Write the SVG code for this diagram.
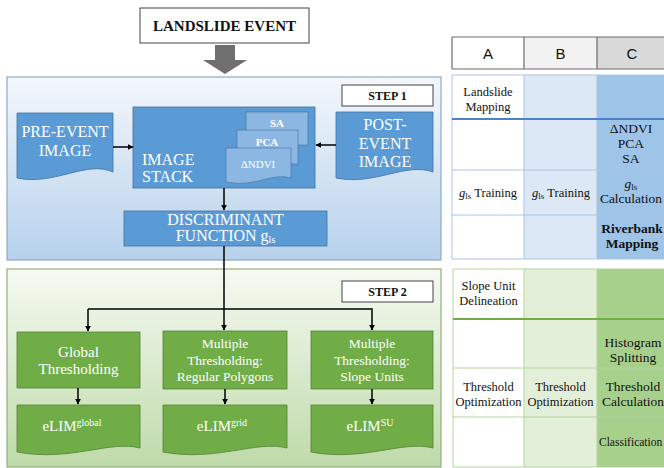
<svg xmlns="http://www.w3.org/2000/svg" width="664" height="468" viewBox="0 0 664 468">
<defs>
<linearGradient id="gBlue" x1="0" y1="0" x2="0" y2="1">
<stop offset="0" stop-color="#f3f7fc"/>
<stop offset="1" stop-color="#b7d1ec"/>
</linearGradient>
<linearGradient id="gGreen" x1="0" y1="0" x2="0" y2="1">
<stop offset="0" stop-color="#f6faf3"/>
<stop offset="1" stop-color="#bedaa9"/>
</linearGradient>
<marker id="ah" viewBox="0 0 10 10" refX="9" refY="5" markerWidth="6" markerHeight="6" orient="auto" markerUnits="userSpaceOnUse">
<path d="M0,0 L10,5 L0,10 Z" fill="#000"/>
</marker>
<style>
.panelB{fill:url(#gBlue);stroke:#8ea9c8;stroke-width:1.2}
.panelG{fill:url(#gGreen);stroke:#93b07c;stroke-width:1.2}
.bshape{fill:#5b9bd5;stroke:#41719c;stroke-width:0.8}
.bsub{fill:#8db7e3;stroke:#41719c;stroke-width:0.6}
.gshape{fill:#70ad47;stroke:#557f36;stroke-width:0.8}
text{font-family:'Liberation Serif','Times New Roman','DejaVu Serif',serif}
.wt{fill:#fff;text-anchor:middle}
.bt{fill:#111;text-anchor:middle}
.ws{fill:#fff;text-anchor:start}
.lbl{fill:#fff;stroke:#444;stroke-width:1}
.conn{stroke:#000;stroke-width:1.5;fill:none}
.tt{fill:#111;text-anchor:middle;font-size:12.5px}
.tc{fill:#111;text-anchor:middle;font-size:13.5px}
.ts{fill:#111;text-anchor:start;font-size:11.5px}
.hd{font-family:'Liberation Sans',Arial,sans-serif;fill:#111;text-anchor:middle;font-size:15px}
</style>
</defs>
<rect width="664" height="468" fill="#fff"/>

<g id="landslide-event">
<rect x="140" y="8" width="169" height="35" class="lbl"/>
<text x="224.5" y="31" class="bt" font-size="15" font-weight="bold">LANDSLIDE EVENT</text>
</g>
<g id="big-arrow">
<path d="M215,45 H235 V60 H247 L225,74 L203,60 H215 Z" fill="#6f6f6f"/>
</g>

<g id="step1-panel">
<rect x="7" y="77" width="434" height="183" class="panelB"/>
</g>
<g id="step1-label">
<rect x="342" y="85" width="91" height="21" class="lbl"/>
<text x="387.5" y="100" class="bt" font-size="12" font-weight="bold">STEP 1</text>
</g>
<g id="pre-event">
<path d="M17,113 H113 V172 C86,160 55,186 17,178 Z" class="bshape"/>
<text x="65" y="137" class="wt" font-size="16">PRE-EVENT</text>
<text x="65" y="156" class="wt" font-size="16">IMAGE</text>
</g>
<g id="image-stack">
<rect x="133" y="107" width="182" height="81" class="bshape"/>
<text x="142" y="165" class="ws" font-size="16">IMAGE</text>
<text x="142" y="182" class="ws" font-size="16">STACK</text>
<rect x="246" y="112" width="62" height="33" class="bsub"/>
<text x="277" y="127" class="wt" font-size="11" font-weight="bold">SA</text>
<rect x="237" y="130" width="61" height="34" class="bsub"/>
<text x="267" y="146" class="wt" font-size="11" font-weight="bold">PCA</text>
<path d="M226,148 H291 V178 C272,172 255,188 226,182 Z" class="bsub"/>
<text x="258" y="168" class="wt" font-size="11">ΔNDVI</text>
</g>
<g id="post-event">
<path d="M336,112 H433 V172 C405,162 375,186 336,178 Z" class="bshape"/>
<text x="385" y="130" class="wt" font-size="16">POST-</text>
<text x="385" y="149" class="wt" font-size="16">EVENT</text>
<text x="385" y="167" class="wt" font-size="16">IMAGE</text>
</g>
<g id="discriminant">
<rect x="124" y="211" width="203" height="35" class="bshape"/>
<text x="225.5" y="225" class="wt" font-size="16">DISCRIMINANT</text>
<text x="225.5" y="241" class="wt" font-size="16">FUNCTION g<tspan font-size="10" dy="2">ls</tspan></text>
</g>

<g id="step2-panel">
<rect x="7" y="269" width="434" height="198" class="panelG"/>
</g>
<g id="step2-label">
<rect x="342" y="281" width="91" height="21" class="lbl"/>
<text x="387.5" y="296" class="bt" font-size="12" font-weight="bold">STEP 2</text>
</g>
<g id="global">
<rect x="17" y="332" width="123" height="56" class="gshape"/>
<text x="78.5" y="357" class="wt" font-size="15">Global</text>
<text x="78.5" y="374" class="wt" font-size="15">Thresholding</text>
</g>
<g id="multi-grid">
<rect x="163" y="331" width="124" height="58" class="gshape"/>
<text x="225" y="348" class="wt" font-size="13.5">Multiple</text>
<text x="225" y="365" class="wt" font-size="13.5">Thresholding:</text>
<text x="225" y="381" class="wt" font-size="13.5">Regular  Polygons</text>
</g>
<g id="multi-su">
<rect x="311" y="331" width="122" height="58" class="gshape"/>
<text x="372" y="348" class="wt" font-size="13.5">Multiple</text>
<text x="372" y="365" class="wt" font-size="13.5">Thresholding:</text>
<text x="372" y="381" class="wt" font-size="13.5">Slope Units</text>
</g>
<g id="elim-global">
<path d="M17,405 H140 V448 C110,440 70,462 17,452 Z" class="gshape"/>
<text x="72" y="431" class="wt" font-size="15">eLIM<tspan font-size="10" dy="-5">global</tspan></text>
</g>
<g id="elim-grid">
<path d="M163,405 H287 V448 C257,440 216,462 163,452 Z" class="gshape"/>
<text x="222" y="431" class="wt" font-size="15">eLIM<tspan font-size="10" dy="-5">grid</tspan></text>
</g>
<g id="elim-su">
<path d="M311,405 H433 V448 C403,440 363,462 311,452 Z" class="gshape"/>
<text x="370" y="431" class="wt" font-size="15">eLIM<tspan font-size="10" dy="-5">SU</tspan></text>
</g>

<g id="connectors">
<line x1="113" y1="147" x2="133" y2="147" class="conn" marker-end="url(#ah)"/>
<line x1="336" y1="145" x2="316" y2="145" class="conn" marker-end="url(#ah)"/>
<line x1="224" y1="188" x2="224" y2="210" class="conn" marker-end="url(#ah)"/>
<line x1="224" y1="246" x2="224" y2="330" class="conn" marker-end="url(#ah)"/>
<polyline points="88,309 372,309 372,330" class="conn" marker-end="url(#ah)"/>
<line x1="88" y1="309" x2="88" y2="331" class="conn" marker-end="url(#ah)"/>
<line x1="78" y1="388" x2="78" y2="404" class="conn" marker-end="url(#ah)"/>
<line x1="225" y1="389" x2="225" y2="404" class="conn" marker-end="url(#ah)"/>
<line x1="372" y1="389" x2="372" y2="404" class="conn" marker-end="url(#ah)"/>
</g>

<g id="table-header">
<rect x="452" y="37" width="72" height="32" fill="#fff"/>
<rect x="524" y="37" width="73" height="32" fill="#f2f2f2"/>
<rect x="597" y="37" width="75" height="32" fill="#d9d9d9"/>
<path d="M452,37 H672 M452,69 H672 M452,37 V69 M524,37 V69 M597,37 V69" stroke="#6d6d6d" stroke-width="1.2" fill="none"/>
<text x="488" y="59" class="hd">A</text>
<text x="560.5" y="59" class="hd">B</text>
<text x="632" y="59" class="hd">C</text>
</g>

<g id="table-step1">
<rect x="452" y="75" width="72" height="184" fill="#fff"/>
<rect x="524" y="75" width="73" height="184" fill="#dce8f5"/>
<rect x="597" y="75" width="75" height="184" fill="#9ec4e8"/>
<path d="M452,75 H672 M452,259 H672 M452,75 V259 M524,75 V259 M597,75 V259 M452,170 H672 M452,215 H672" stroke="#a9c4e3" stroke-width="1" fill="none"/>
<line x1="452" y1="119" x2="672" y2="119" stroke="#4f81c7" stroke-width="2"/>
<text x="488" y="96" class="tt">Landslide</text>
<text x="488" y="111" class="tt">Mapping</text>
<text x="631" y="133" class="tc">ΔNDVI</text>
<text x="631" y="148" class="tc">PCA</text>
<text x="631" y="163" class="tc">SA</text>
<text x="488" y="197" class="tt"><tspan font-style="italic">g</tspan><tspan font-size="9" dy="2">ls</tspan><tspan dy="-2"> Training</tspan></text>
<text x="561" y="197" class="tt"><tspan font-style="italic">g</tspan><tspan font-size="9" dy="2">ls</tspan><tspan dy="-2"> Training</tspan></text>
<text x="631" y="188" class="tc"><tspan font-style="italic">g</tspan><tspan font-size="9" dy="2">ls</tspan></text>
<text x="631" y="203" class="tc">Calculation</text>
<text x="632" y="233" class="tc" font-weight="bold">Riverbank</text>
<text x="632" y="248" class="tc" font-weight="bold">Mapping</text>
</g>

<g id="table-step2">
<rect x="453" y="269" width="71" height="198" fill="#fff"/>
<rect x="524" y="269" width="73" height="198" fill="#e3efd9"/>
<rect x="597" y="269" width="75" height="198" fill="#a8d08d"/>
<path d="M453,269 H672 M453,467 H672 M453,269 V467 M524,269 V467 M597,269 V467 M453,368 H672 M453,417 H672" stroke="#b5d3a0" stroke-width="1" fill="none"/>
<line x1="453" y1="319" x2="672" y2="319" stroke="#70ad47" stroke-width="2"/>
<text x="488.5" y="290" class="tt" font-size="13">Slope Unit</text>
<text x="488.5" y="305" class="tt" font-size="13">Delineation</text>
<text x="633" y="347" class="tc">Histogram</text>
<text x="633" y="362" class="tc">Splitting</text>
<text x="488.5" y="391" class="tt">Threshold</text>
<text x="488.5" y="406" class="tt">Optimization</text>
<text x="560.5" y="391" class="tt">Threshold</text>
<text x="560.5" y="406" class="tt">Optimization</text>
<text x="633" y="391" class="tc">Threshold</text>
<text x="633" y="406" class="tc">Calculation</text>
<text x="599" y="446" class="ts">Classification</text>
</g>
</svg>
